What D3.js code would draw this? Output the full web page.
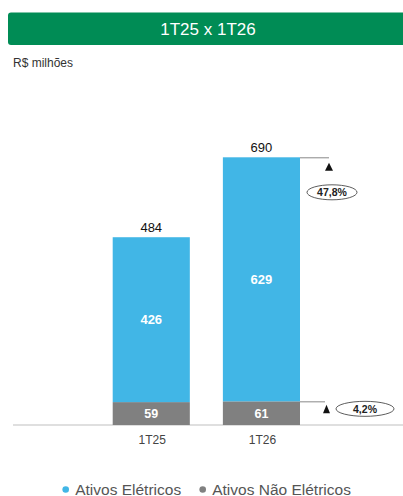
<!DOCTYPE html>
<html><head><meta charset="utf-8">
<script src="https://cdn.jsdelivr.net/npm/d3@7"></script>
<style>body{margin:0;background:#fff;}svg{display:block;font-family:"Liberation Sans",Arial,sans-serif;}</style>
</head><body>
<svg id="c" width="403" height="496"></svg>
<script>
const categories = ["1T25", "1T26"];
const eletricos = [426, 629];
const naoEletricos = [59, 61];
const totals = [484, 690];
const growthLabels = ["47,8%", "4,2%"];
const seriesNames = ["Ativos Elétricos", "Ativos Não Elétricos"];
const titleText = "1T25 x 1T26";
const unitText = "R$ milhões";

const colors = {elet: "#41B6E6", nao: "#808080", green: "#008C55"};
const svg = d3.select("#c");

// title bar
svg.append("rect").attr("x", 8).attr("y", 12.5).attr("width", 420).attr("height", 32.5)
  .attr("rx", 3).attr("fill", colors.green);
svg.append("text").attr("x", 208).attr("y", 35).attr("text-anchor", "middle")
  .attr("fill", "#fff").attr("font-size", 17).text(titleText);
svg.append("text").attr("x", 13).attr("y", 67).attr("fill", "#333")
  .attr("font-size", 12).text(unitText);

const x = d3.scaleBand().domain(categories).range([112.7, 300]).paddingInner(0.3).paddingOuter(0);
const y = d3.scaleLinear().domain([0, 690]).range([425, 157.3]);

// axis line
svg.append("line").attr("x1", 13).attr("x2", 403).attr("y1", y(0)).attr("y2", y(0))
  .attr("stroke", "#bfbfbf").attr("stroke-width", 1);

const data = categories.map((c, i) => ({c, e: eletricos[i], n: naoEletricos[i], t: totals[i]}));

// grey segments
svg.selectAll(".nao").data(data).join("rect")
  .attr("x", d => x(d.c)).attr("width", x.bandwidth())
  .attr("y", d => y(d.n)).attr("height", d => y(0) - y(d.n)).attr("fill", colors.nao);
// blue segments
svg.selectAll(".elet").data(data).join("rect")
  .attr("x", d => x(d.c)).attr("width", x.bandwidth())
  .attr("y", d => y(d.t)).attr("height", d => y(d.n) - y(d.t)).attr("fill", colors.elet);

// inside labels
svg.selectAll(".ln").data(data).join("text")
  .attr("x", d => x(d.c) + x.bandwidth() / 2).attr("y", d => (y(0) + y(d.n)) / 2 + 4.5)
  .attr("text-anchor", "middle").attr("fill", "#fff").attr("font-weight", "bold")
  .attr("font-size", 12.5).text(d => d.n);
svg.selectAll(".le").data(data).join("text")
  .attr("x", d => x(d.c) + x.bandwidth() / 2).attr("y", d => (y(d.n) + y(d.t)) / 2 + 4.5)
  .attr("text-anchor", "middle").attr("fill", "#fff").attr("font-weight", "bold")
  .attr("font-size", 13).text(d => d.e);
// totals
svg.selectAll(".lt").data(data).join("text")
  .attr("x", d => x(d.c) + x.bandwidth() / 2).attr("y", d => y(d.t) - 5)
  .attr("text-anchor", "middle").attr("fill", "#111")
  .attr("font-size", 13).text(d => d.t);
// category labels
svg.selectAll(".lc").data(data).join("text")
  .attr("x", d => x(d.c) + x.bandwidth() / 2 + 1).attr("y", y(0) + 19)
  .attr("text-anchor", "middle").attr("fill", "#444")
  .attr("font-size", 12).text(d => d.c);

// annotations
const last = data[data.length - 1];
const right = x(last.c) + x.bandwidth();
// top: total growth
const yt = y(last.t) + 0.5;
svg.append("path").attr("d", `M${right},${yt}H${right + 29}`).attr("stroke", "#888").attr("fill", "none");
svg.append("path").attr("d", `M${right + 29},${yt + 5}L${right + 33},${yt + 13}L${right + 25},${yt + 13}Z`).attr("fill", "#111");
svg.append("ellipse").attr("cx", right + 32).attr("cy", yt + 34.5).attr("rx", 25).attr("ry", 7.5)
  .attr("fill", "#fff").attr("stroke", "#333").attr("stroke-width", 0.8);
svg.append("text").attr("x", right + 32).attr("y", yt + 38.3).attr("text-anchor", "middle")
  .attr("font-size", 10.5).attr("font-weight", "bold").attr("fill", "#222").text(growthLabels[0]);
// bottom: non-electric growth
const yb = y(last.n) + 0.5;
svg.append("path").attr("d", `M${right},${yb}H${right + 25}`).attr("stroke", "#888").attr("fill", "none");
svg.append("path").attr("d", `M${right + 26.5},${yb + 3}L${right + 30},${yb + 11.5}L${right + 23},${yb + 11.5}Z`).attr("fill", "#111");
svg.append("ellipse").attr("cx", right + 65).attr("cy", yb + 7).attr("rx", 29).attr("ry", 7.5)
  .attr("fill", "#fff").attr("stroke", "#333").attr("stroke-width", 0.8);
svg.append("text").attr("x", right + 65).attr("y", yb + 10.8).attr("text-anchor", "middle")
  .attr("font-size", 10.5).attr("font-weight", "bold").attr("fill", "#222").text(growthLabels[1]);

// legend
const legX = [65.7, 202.7];
const legColors = [colors.elet, colors.nao];
seriesNames.forEach((s, i) => {
  svg.append("circle").attr("cx", legX[i]).attr("cy", 489.5).attr("r", 3.3).attr("fill", legColors[i]);
  svg.append("text").attr("x", legX[i] + 9.5).attr("y", 494.5).attr("fill", "#555")
    .attr("font-size", 15.5).text(s);
});
</script>
</body></html>
